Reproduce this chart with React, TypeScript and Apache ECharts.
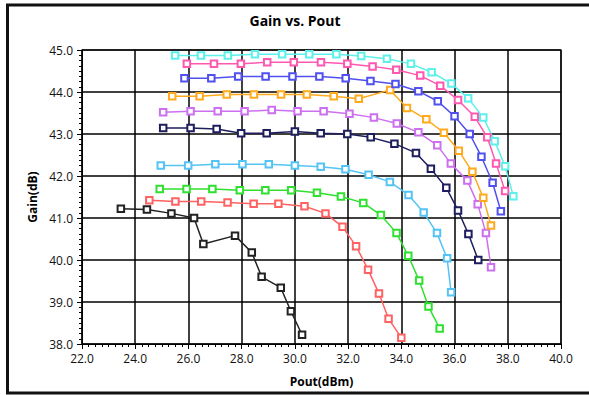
import React, { useEffect, useRef } from "react";
import * as echarts from "echarts";

const xTicks = { min: 22, max: 40, interval: 2 };
const yTicks = { min: 38, max: 45, interval: 1 };

const blackX = [23.46, 24.44, 25.36, 26.21, 26.56, 27.75, 28.38, 28.75, 29.47, 29.85, 30.27];
const blackY = [41.22, 41.2, 41.11, 41.0, 40.38, 40.58, 40.18, 39.6, 39.34, 38.78, 38.22];

const redX = [24.53, 25.51, 26.48, 27.47, 28.45, 29.38, 30.36, 31.15, 31.79, 32.3, 32.75, 33.16, 33.52, 34.0];
const redY = [41.42, 41.39, 41.39, 41.37, 41.34, 41.34, 41.28, 41.11, 40.79, 40.33, 39.77, 39.2, 38.6, 38.15];

const greenX = [24.92, 25.93, 26.9, 27.93, 28.89, 29.86, 30.83, 31.73, 32.57, 33.23, 33.82, 34.26, 34.67, 35.02, 35.44];
const greenY = [41.69, 41.69, 41.69, 41.66, 41.66, 41.66, 41.6, 41.51, 41.36, 41.07, 40.64, 40.1, 39.51, 38.89, 38.37];

const skyX = [24.96, 25.99, 27.01, 28.03, 29.02, 30.0, 30.97, 31.9, 32.77, 33.57, 34.27, 34.84, 35.34, 35.72, 35.87];
const skyY = [42.25, 42.25, 42.28, 42.28, 42.28, 42.25, 42.22, 42.16, 42.03, 41.86, 41.55, 41.13, 40.64, 40.04, 39.23];

const navyX = [25.05, 26.08, 27.06, 27.98, 28.94, 30.0, 30.97, 31.97, 32.85, 33.74, 34.55, 35.11, 35.69, 36.13, 36.52, 36.89];
const navyY = [43.14, 43.14, 43.12, 43.02, 43.02, 43.06, 43.02, 43.0, 42.92, 42.77, 42.55, 42.17, 41.72, 41.18, 40.62, 40.0];

const purpleX = [25.05, 26.08, 27.1, 28.11, 29.13, 30.1, 31.08, 32.05, 32.97, 33.83, 34.64, 35.35, 35.86, 36.48, 36.87, 37.18, 37.37];
const purpleY = [43.52, 43.54, 43.54, 43.54, 43.57, 43.54, 43.54, 43.48, 43.39, 43.25, 43.04, 42.73, 42.3, 41.89, 41.33, 40.64, 39.83];

const orangeX = [25.39, 26.42, 27.44, 28.46, 29.48, 30.45, 31.46, 32.4, 33.58, 34.21, 34.94, 35.6, 36.16, 36.67, 37.08, 37.37];
const orangeY = [43.9, 43.9, 43.94, 43.94, 43.94, 43.94, 43.9, 43.84, 44.05, 43.62, 43.35, 43.03, 42.6, 42.1, 41.48, 40.82];

const blueX = [25.85, 26.86, 27.87, 28.9, 29.91, 30.92, 31.91, 32.84, 33.78, 34.64, 35.37, 36.0, 36.57, 37.01, 37.43, 37.74];
const blueY = [44.33, 44.33, 44.37, 44.37, 44.37, 44.37, 44.33, 44.26, 44.19, 44.02, 43.78, 43.42, 43.0, 42.46, 41.84, 41.16];

const pinkX = [25.94, 26.96, 27.97, 28.96, 29.96, 30.98, 31.97, 32.92, 33.81, 34.71, 35.46, 36.13, 36.76, 37.23, 37.56, 37.9];
const pinkY = [44.67, 44.67, 44.67, 44.71, 44.71, 44.71, 44.67, 44.61, 44.53, 44.39, 44.15, 43.81, 43.41, 42.92, 42.3, 41.64];

const cyanX = [25.5, 26.47, 27.48, 28.5, 29.52, 30.54, 31.56, 32.49, 33.46, 34.36, 35.14, 35.88, 36.51, 37.08, 37.51, 37.9, 38.21];
const cyanY = [44.87, 44.87, 44.87, 44.9, 44.9, 44.9, 44.9, 44.86, 44.79, 44.67, 44.47, 44.2, 43.85, 43.39, 42.83, 42.23, 41.52];

const titleText = "Gain vs. Pout";
const xName = "Pout(dBm)";
const yName = "Gain(dB)";

const seriesDefs = [
  { name: "s1", x: blackX, y: blackY, color: "#222222" },
  { name: "s2", x: redX, y: redY, color: "#ff6262" },
  { name: "s3", x: greenX, y: greenY, color: "#30e030" },
  { name: "s4", x: skyX, y: skyY, color: "#55c4f5" },
  { name: "s5", x: navyX, y: navyY, color: "#1e1e5e" },
  { name: "s6", x: purpleX, y: purpleY, color: "#cc70f0" },
  { name: "s7", x: orangeX, y: orangeY, color: "#ffaa1e" },
  { name: "s8", x: blueX, y: blueY, color: "#5050ee" },
  { name: "s9", x: pinkX, y: pinkY, color: "#ff58b0" },
  { name: "s10", x: cyanX, y: cyanY, color: "#5ef0ea" },
];

const FONT = "'Open Sans', 'Noto Sans', sans-serif";

export default function App() {
  const ref = useRef<HTMLDivElement>(null);
  useEffect(() => {
    if (!ref.current) return;
    const chart = echarts.init(ref.current, undefined, { renderer: "svg" });
    chart.setOption({
      animation: false,
      backgroundColor: "#ffffff",
      graphic: [
        {
          type: "rect",
          shape: { x: 7.5, y: 5, width: 700, height: 388 },
          style: { fill: "none", stroke: "#111", lineWidth: 3 },
          silent: true,
        },
        {
          type: "text",
          x: 295,
          y: 20,
          style: {
            text: titleText,
            align: "center",
            verticalAlign: "middle",
            fontFamily: FONT,
            fontSize: 14,
            fontWeight: "bold",
            fill: "#000",
          },
          silent: true,
        },
      ],
      grid: {
        left: 82,
        right: 28,
        top: 50,
        bottom: 51,
        show: true,
        borderColor: "#555",
        borderWidth: 1.5,
      },
      xAxis: {
        type: "value",
        min: xTicks.min,
        max: xTicks.max,
        interval: xTicks.interval,
        name: xName,
        nameLocation: "middle",
        nameGap: 31,
        nameTextStyle: { fontFamily: FONT, fontSize: 12, fontWeight: "bold", color: "#000" },
        axisLine: { show: true, lineStyle: { color: "#000", width: 1 } },
        axisTick: { show: true, length: 5, lineStyle: { color: "#000" } },
        minorTick: { show: true, splitNumber: 8, length: 3, lineStyle: { color: "#000" } },
        axisLabel: {
          margin: 8,
          fontFamily: FONT,
          fontSize: 12,
          color: "#111",
          formatter: (v: number) => v.toFixed(1),
        },
        splitLine: { show: true, lineStyle: { color: "#000", width: 1.5 } },
      },
      yAxis: {
        type: "value",
        min: yTicks.min,
        max: yTicks.max,
        interval: yTicks.interval,
        name: yName,
        nameLocation: "middle",
        nameGap: 41,
        nameTextStyle: { fontFamily: FONT, fontSize: 12, fontWeight: "bold", color: "#000" },
        axisLine: { show: true, lineStyle: { color: "#000", width: 1 } },
        axisTick: { show: true, length: 5, lineStyle: { color: "#000" } },
        minorTick: { show: true, splitNumber: 8, length: 3, lineStyle: { color: "#000" } },
        axisLabel: {
          margin: 9,
          fontFamily: FONT,
          fontSize: 12,
          color: "#111",
          formatter: (v: number) => v.toFixed(1),
        },
        splitLine: { show: true, lineStyle: { color: "#000", width: 1.5 } },
      },
      series: seriesDefs.map((s) => ({
        name: s.name,
        type: "line",
        data: s.x.map((xv, i) => [xv, s.y[i]]),
        symbol: "emptyRect",
        symbolSize: 6.5,
        showSymbol: true,
        lineStyle: { color: s.color, width: 1.5 },
        itemStyle: { color: s.color, borderColor: s.color, borderWidth: 1.2 },
      })),
    });
    return () => chart.dispose();
  }, []);
  return (
    <div
      ref={ref}
      style={{ position: "fixed", left: 0, top: 0, width: 589, height: 395 }}
    />
  );
}
